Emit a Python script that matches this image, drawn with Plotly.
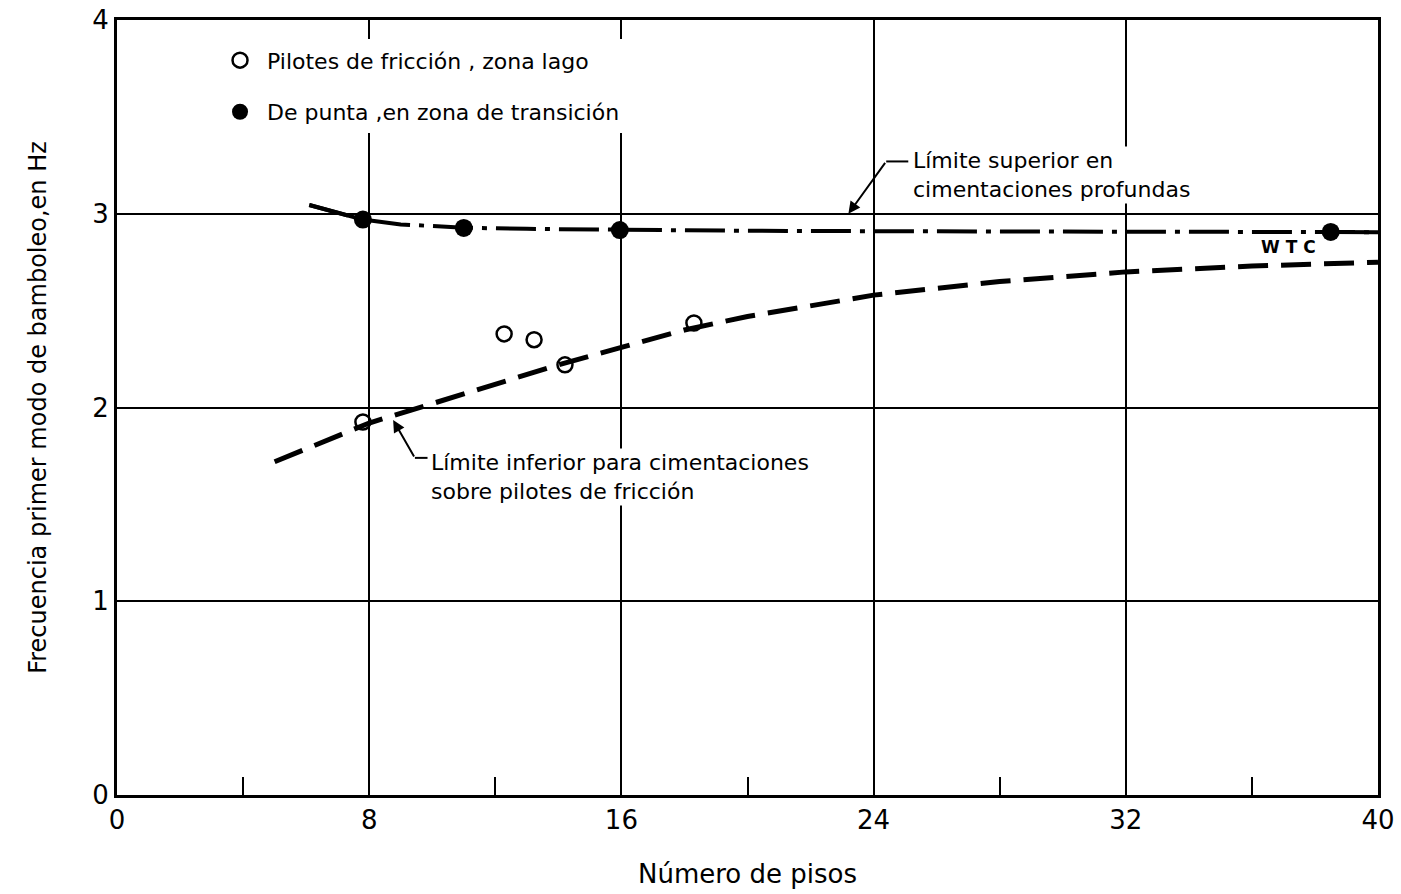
import plotly.graph_objects as go

# ---- data ----
friccion_x = [7.8, 12.28, 13.23, 14.21, 18.30]
friccion_y = [1.925, 2.38, 2.35, 2.22, 2.436]

punta_x = [7.8, 11.0, 15.95, 38.5]
punta_y = [2.97, 2.927, 2.916, 2.906]

upper_x = [6.1, 7.8, 9, 11, 13, 16, 20, 24, 28, 32, 36, 40]
upper_y = [3.045, 2.97, 2.945, 2.928, 2.922, 2.916, 2.912, 2.91, 2.908, 2.906, 2.905, 2.905]

lower_x = [5.0, 8, 10, 12, 14, 16, 18, 20, 24, 28, 32, 36, 40]
lower_y = [1.72, 1.92, 2.02, 2.12, 2.22, 2.31, 2.40, 2.47, 2.58, 2.65, 2.70, 2.73, 2.75]

x_ticks = [0, 8, 16, 24, 32, 40]
y_ticks = [0, 1, 2, 3, 4]

FONT = "DejaVu Sans"

fig = go.Figure()

# upper limit curve (dash-dot), with solid start
fig.add_trace(go.Scatter(x=upper_x, y=upper_y, mode="lines",
                         line=dict(color="black", width=4, dash="40px,9px,5px,9px"),
                         showlegend=False, hoverinfo="skip"))
fig.add_trace(go.Scatter(x=upper_x[:2], y=upper_y[:2], mode="lines",
                         line=dict(color="black", width=4),
                         showlegend=False, hoverinfo="skip"))
fig.add_trace(go.Scatter(x=[punta_x[-1], upper_x[-1]], y=[punta_y[-1], upper_y[-1]], mode="lines",
                         line=dict(color="black", width=4),
                         showlegend=False, hoverinfo="skip"))

# lower limit curve (dashed)
fig.add_trace(go.Scatter(x=lower_x, y=lower_y, mode="lines",
                         line=dict(color="black", width=5, dash="30px,13px"),
                         showlegend=False, hoverinfo="skip"))

# points
fig.add_trace(go.Scatter(x=friccion_x, y=friccion_y, mode="markers",
                         name=" Pilotes de fricción , zona lago",
                         legendgroup="a",
                         marker=dict(symbol="circle-open", size=15, color="black",
                                     line=dict(width=2.5, color="black"))))
fig.add_trace(go.Scatter(x=punta_x, y=punta_y, mode="markers",
                         name=" De punta ,en zona de transición",
                         legendgroup="b",
                         marker=dict(symbol="circle", size=18, color="black")))

# annotations
fig.add_annotation(x=25.2, y=3.27, xref="x", yref="y", xanchor="left", yanchor="middle",
                   text="Límite superior en<br>cimentaciones profundas", showarrow=False,
                   align="left", font=dict(family=FONT, size=22, color="black"),
                   bgcolor="white", yshift=-14)
fig.add_annotation(x=23.2, y=3.0, xref="x", yref="y", ax=24.4, ay=3.27, axref="x", ayref="y",
                   text="", showarrow=True, arrowhead=2, arrowsize=1.2, arrowwidth=2,
                   arrowcolor="black")
fig.add_shape(type="line", x0=24.4, y0=3.27, x1=25.1, y1=3.27, xref="x", yref="y",
              line=dict(color="black", width=2))

fig.add_annotation(x=9.9, y=1.74, xref="x", yref="y", xanchor="left", yanchor="middle",
                   text="Límite inferior para cimentaciones<br>sobre pilotes de fricción",
                   showarrow=False, align="left",
                   font=dict(family=FONT, size=22, color="black"),
                   bgcolor="white", yshift=-19)
fig.add_annotation(x=8.76, y=1.935, xref="x", yref="y", ax=9.45, ay=1.74, axref="x", ayref="y",
                   text="", showarrow=True, arrowhead=2, arrowsize=1.2, arrowwidth=2,
                   arrowcolor="black")
fig.add_shape(type="line", x0=9.45, y0=1.74, x1=9.85, y1=1.74, xref="x", yref="y",
              line=dict(color="black", width=2))

fig.add_annotation(x=37.15, y=2.83, xref="x", yref="y", text="<b>W T C</b>", showarrow=False,
                   font=dict(family=FONT, size=17, color="black"))

fig.update_layout(
    width=1401, height=894,
    margin=dict(l=117, r=23, t=20, b=99),
    plot_bgcolor="white", paper_bgcolor="white",
    font=dict(family=FONT, size=24, color="black"),
    legend=dict(x=0.0817, y=0.975, xanchor="left", yanchor="top",
                bgcolor="white", font=dict(family=FONT, size=22, color="black"),
                tracegroupgap=20, traceorder="grouped", itemsizing="trace"),
    showlegend=True,
)

fig.update_xaxes(range=[0, 40], tickvals=x_ticks, ticktext=[str(v) for v in x_ticks],
                 showgrid=True, gridcolor="black", gridwidth=1.5,
                 showline=True, linecolor="black", linewidth=3, mirror=True,
                 zeroline=False, ticks="", automargin=False,
                 tickfont=dict(family=FONT, size=26),
                 minor=dict(tickvals=[4, 12, 20, 28, 36], ticks="inside", ticklen=18,
                            tickwidth=2, tickcolor="black", showgrid=False),
                 title=dict(text="Número de pisos", font=dict(family=FONT, size=26), standoff=31))
fig.update_yaxes(range=[0, 4], tickvals=y_ticks, ticktext=[str(v) for v in y_ticks],
                 showgrid=True, gridcolor="black", gridwidth=1.5,
                 showline=True, linecolor="black", linewidth=3, mirror=True,
                 zeroline=False, ticks="", automargin=False,
                 tickfont=dict(family=FONT, size=26),
                 title=dict(text="Frecuencia primer modo de bamboleo,en Hz",
                            font=dict(family=FONT, size=24), standoff=39))

fig.write_html("out.html", config={"displayModeBar": False},
               post_script="document.body.style.margin='0';document.body.style.overflow='hidden';")
